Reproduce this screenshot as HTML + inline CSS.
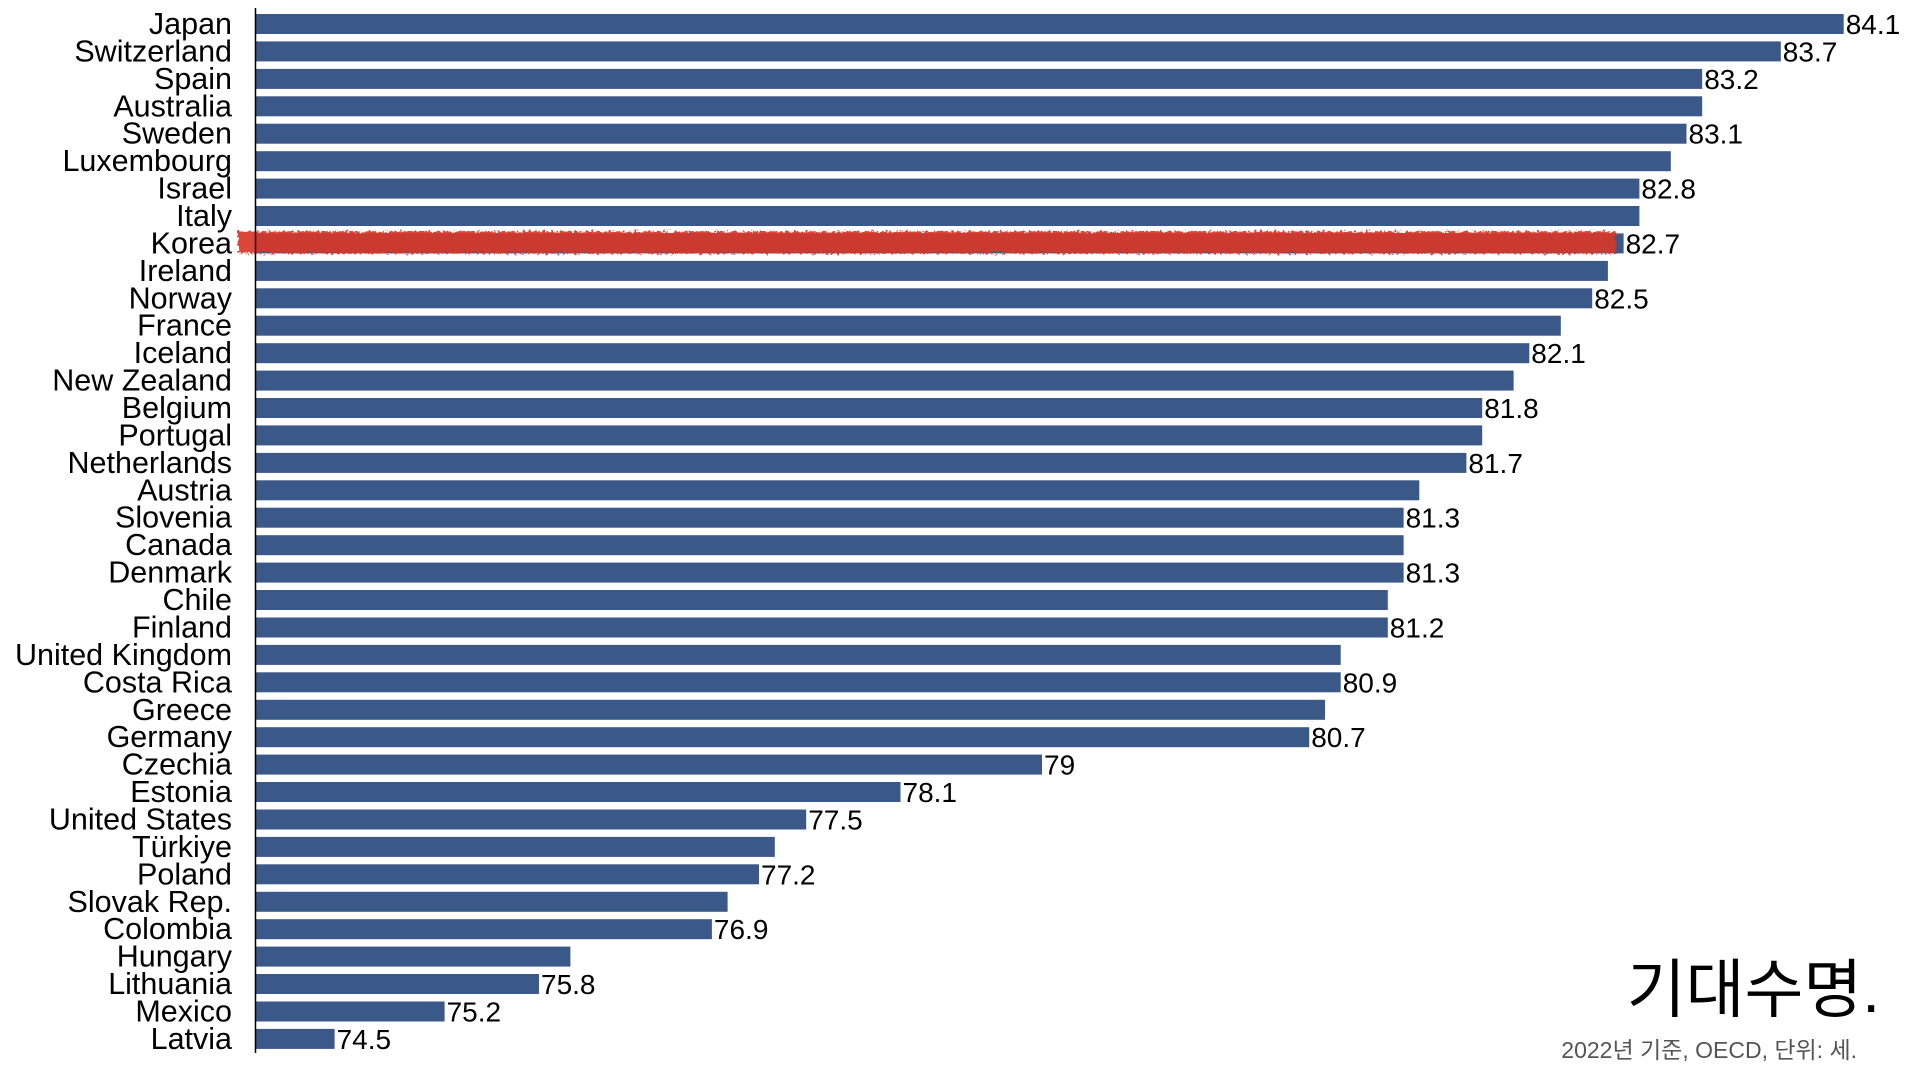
<!DOCTYPE html>
<html><head><meta charset="utf-8"><style>
html,body{margin:0;padding:0;background:#fff;width:1920px;height:1080px;overflow:hidden}
svg{display:block}
.l{font-family:"Liberation Sans",Arial,sans-serif;font-size:30.5px;fill:#000;text-anchor:end}
.v{font-family:"Liberation Sans",Arial,sans-serif;font-size:28px;fill:#000}
</style></head><body>
<svg id="c" width="1920" height="1080" xmlns="http://www.w3.org/2000/svg">
<defs>
<filter id="rough" x="-5%" y="-50%" width="110%" height="200%">
<feTurbulence type="fractalNoise" baseFrequency="0.35" numOctaves="2" seed="3" result="n"/>
<feDisplacementMap in="SourceGraphic" in2="n" scale="7"/>
</filter>
</defs>
<g id="bars"></g>
<line x1="255.5" y1="8" x2="255.5" y2="1053" stroke="#000" stroke-width="1.5"/>
<text x="1880" y="1012" text-anchor="end" style="font-family:'Liberation Sans','Noto Sans CJK KR',sans-serif;font-size:64px;fill:#000">기대수명.</text>
<text x="1857" y="1058" text-anchor="end" style="font-family:'Liberation Sans','Noto Sans CJK KR',sans-serif;font-size:23px;fill:#555">2022년 기준, OECD, 단위: 세.</text>
</svg>
<script>
var d=[["Japan",84.1,1],["Switzerland",83.7,1],["Spain",83.2,1],["Australia",83.2,0],["Sweden",83.1,1],["Luxembourg",83.0,0],["Israel",82.8,1],["Italy",82.8,0],["Korea",82.7,1],["Ireland",82.6,0],["Norway",82.5,1],["France",82.3,0],["Iceland",82.1,1],["New Zealand",82.0,0],["Belgium",81.8,1],["Portugal",81.8,0],["Netherlands",81.7,1],["Austria",81.4,0],["Slovenia",81.3,1],["Canada",81.3,0],["Denmark",81.3,1],["Chile",81.2,0],["Finland",81.2,1],["United Kingdom",80.9,0],["Costa Rica",80.9,1],["Greece",80.8,0],["Germany",80.7,1],["Czechia",79,1],["Estonia",78.1,1],["United States",77.5,1],["Türkiye",77.3,0],["Poland",77.2,1],["Slovak Rep.",77.0,0],["Colombia",76.9,1],["Hungary",76.0,0],["Lithuania",75.8,1],["Mexico",75.2,1],["Latvia",74.5,1]];
var s="";
d.forEach(function(r,i){
 var y=14+i*27.43, w=(r[1]-74)*157.2, c=y+10;
 s+='<rect x="256" y="'+y.toFixed(1)+'" width="'+w.toFixed(1)+'" height="20" fill="#3a5888"/>';
 s+='<text class="l" x="232" y="'+(c+10).toFixed(1)+'">'+r[0]+'</text>';
 if(r[2]) s+='<text class="v" x="'+(256+w+2).toFixed(1)+'" y="'+(c+10).toFixed(1)+'">'+r[1]+'</text>';
 if(r[0]=="Korea") s+='<rect x="238" y="'+(y-2)+'" width="1378" height="22" fill="#d8392a" opacity="0.92" filter="url(#rough)"/>';
});
document.getElementById("bars").innerHTML=s;
</script>
</body></html>
